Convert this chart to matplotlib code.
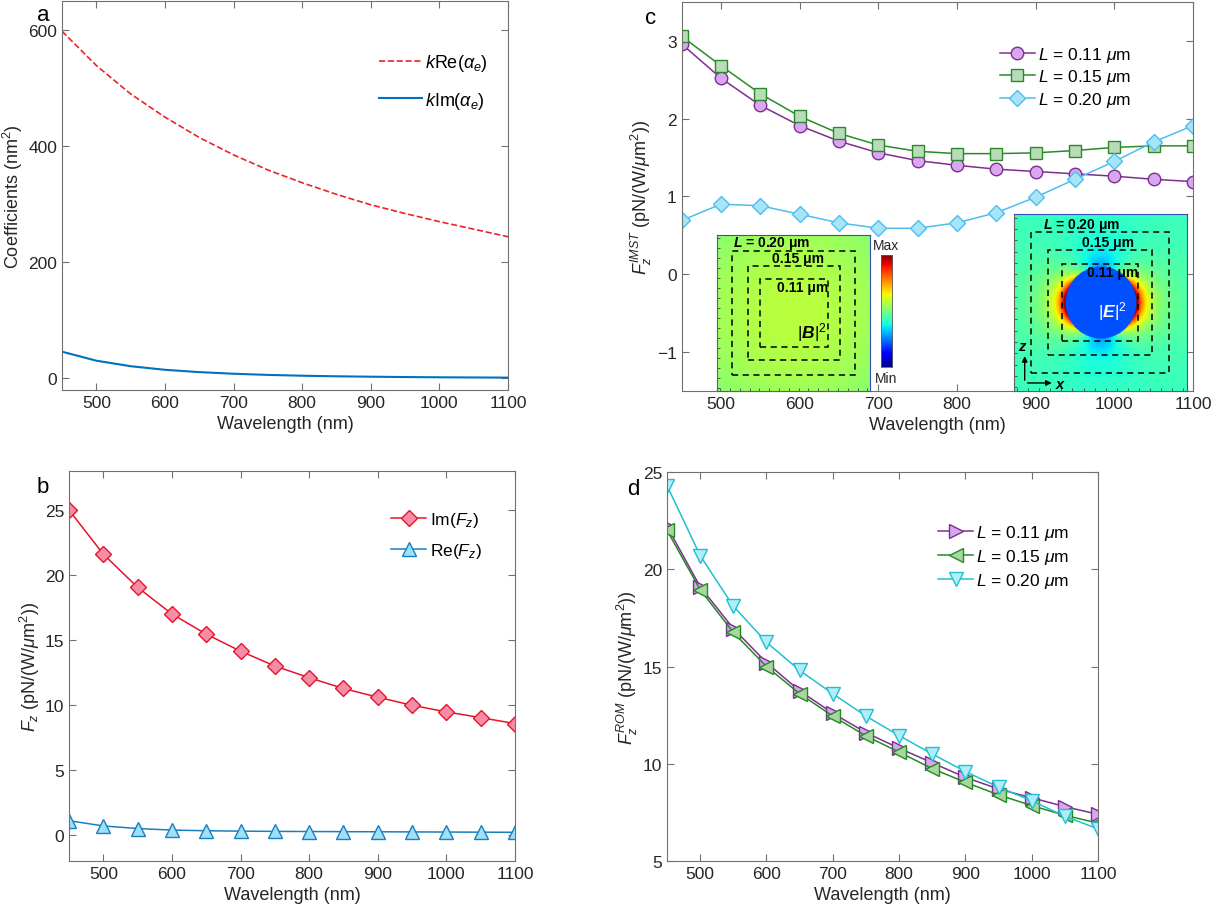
import numpy as np
import matplotlib
matplotlib.use("Agg")
from matplotlib import pyplot as plt
from matplotlib.patches import Rectangle

plt.rcParams['font.family'] = ['Liberation Sans', 'DejaVu Sans']
plt.rcParams['mathtext.fontset'] = 'custom'
plt.rcParams['mathtext.rm'] = 'Liberation Sans'
plt.rcParams['mathtext.it'] = 'Liberation Sans:italic'
plt.rcParams['mathtext.bf'] = 'Liberation Sans:bold'
plt.rcParams['mathtext.bfit'] = 'Liberation Sans:italic:bold'

# data
wl = [450, 500, 550, 600, 650, 700, 750, 800, 850, 900, 950, 1000, 1050, 1100]

# panel a
k_re = [598, 539, 490, 450, 415, 385, 359, 337, 317, 299, 284, 270, 257, 244]
k_im = [46, 30.5, 21, 14.8, 10.8, 8.0, 6.0, 4.6, 3.6, 2.9, 2.3, 1.9, 1.6, 1.3]

# panel b
fz_im = [25.0, 21.6, 19.05, 17.0, 15.45, 14.14, 13.0, 12.1, 11.27, 10.6, 9.98, 9.47, 9.03, 8.57]
fz_re = [1.1, 0.7, 0.5, 0.38, 0.33, 0.3, 0.28, 0.27, 0.26, 0.25, 0.24, 0.23, 0.22, 0.21]

# panel c (IMST)
imst_011 = [2.96, 2.52, 2.17, 1.91, 1.71, 1.56, 1.46, 1.40, 1.35, 1.32, 1.29, 1.26, 1.22, 1.19]
imst_015 = [3.06, 2.68, 2.32, 2.03, 1.81, 1.66, 1.58, 1.55, 1.55, 1.56, 1.59, 1.63, 1.65, 1.65]
imst_020 = [0.69, 0.90, 0.88, 0.77, 0.66, 0.59, 0.59, 0.66, 0.79, 0.99, 1.22, 1.45, 1.70, 1.91]

# panel d (ROM)
rom_011 = [22.2, 19.1, 16.95, 15.2, 13.75, 12.6, 11.6, 10.8, 10.05, 9.3, 8.7, 8.25, 7.8, 7.4]
rom_015 = [22.0, 18.95, 16.75, 15.0, 13.6, 12.45, 11.43, 10.6, 9.75, 9.05, 8.4, 7.85, 7.35, 6.95]
rom_020 = [24.3, 20.7, 18.1, 16.25, 14.8, 13.6, 12.45, 11.45, 10.5, 9.6, 8.8, 8.1, 7.3, 6.65]

L_labels = [r"$L$ = 0.11 $\mu$m", r"$L$ = 0.15 $\mu$m", r"$L$ = 0.20 $\mu$m"]
square_half = [0.055, 0.075, 0.10]   # half of L in um

SPINE = "#707070"
TXT = "#262626"
FS = 12.5

fig = plt.figure(figsize=(12.3, 9.2), dpi=100, facecolor="white")
ax_a = fig.add_axes([0.0504, 0.575, 0.3626, 0.4228])
ax_b = fig.add_axes([0.0561, 0.063, 0.3626, 0.424])
ax_c = fig.add_axes([0.5542, 0.5742, 0.4157, 0.4225])
ax_d = fig.add_axes([0.5423, 0.063, 0.3504, 0.4229])


def style(ax, ylabel, yticks, ylim):
    ax.set_xlim(450, 1100)
    ax.set_ylim(*ylim)
    ax.set_xticks([500, 600, 700, 800, 900, 1000, 1100])
    ax.set_yticks(yticks)
    ax.tick_params(direction="in", length=5, top=True, right=True, color=SPINE,
                   labelcolor=TXT, labelsize=FS, width=0.8)
    for s in ax.spines.values():
        s.set_color(SPINE)
        s.set_linewidth(0.8)
    ax.set_xlabel("Wavelength (nm)", fontsize=FS + 0.5, color=TXT)
    ax.set_ylabel(ylabel, fontsize=FS + 0.5, color=TXT, labelpad=2)


# a
ax_a.plot(wl, k_re, "--", color="#e8262a", lw=1.2, label=r"$k$Re($\alpha_e$)")
ax_a.plot(wl, k_im, "-", color="#0072bd", lw=1.5, label=r"$k$Im($\alpha_e$)")
style(ax_a, r"Coefficients (nm$^2$)", [0, 200, 400, 600], (-20, 650))
ax_a.legend(loc="upper right", bbox_to_anchor=(0.99, 0.91), frameon=False,
            fontsize=FS + 0.5, handlelength=2.4, handletextpad=0.15, labelspacing=0.9)
fig.text(0.030, 0.983, "a", fontsize=16, va="center")

# b
ax_b.plot(wl, fz_im, "-D", color="#e8132b", mfc="#f78ca6", mec="#e8132b", ms=8,
          lw=1.1, label=r"Im($F_z$)")
ax_b.plot(wl, fz_re, "-^", color="#1a7fc0", mfc="#9ee0f5", mec="#1a7fc0", ms=10,
          lw=1.1, label=r"Re($F_z$)")
style(ax_b, r"$F_z$ (pN/(W/$\mu$m$^2$))", [0, 5, 10, 15, 20, 25], (-2, 28))
ax_b.legend(loc="upper right", bbox_to_anchor=(0.96, 0.94), frameon=False,
            fontsize=FS, handlelength=2.0, handletextpad=0.2, labelspacing=0.7)
fig.text(0.030, 0.470, "b", fontsize=16, va="center")

# c
ax_c.plot(wl, imst_011, "-o", color="#7e2f8e", mfc="#d9a6f0", mec="#7e2f8e", ms=9,
          lw=1.1, label=L_labels[0])
ax_c.plot(wl, imst_015, "-s", color="#2a8a2a", mfc="#b7dcb7", mec="#2a8a2a", ms=8,
          lw=1.1, label=L_labels[1])
ax_c.plot(wl, imst_020, "-D", color="#4dbeee", mfc="#a8e4f8", mec="#4dbeee", ms=8,
          lw=1.1, label=L_labels[2])
style(ax_c, r"$F_z^{IMST}$ (pN/(W/$\mu$m$^2$))", [-1, 0, 1, 2, 3], (-1.5, 3.5))
ax_c.legend(loc="upper right", bbox_to_anchor=(0.91, 0.93), frameon=False,
            fontsize=FS, handlelength=2.0, handletextpad=0.2, labelspacing=0.2)
fig.text(0.524, 0.980, "c", fontsize=16, va="center")

# insets for c
ext = [-0.125, 0.125, -0.125, 0.125]
g = np.linspace(-0.125, 0.125, 300)
X, Z = np.meshgrid(g, g)
R2 = X ** 2 + Z ** 2

# |B|^2 map (nearly uniform)
b_map = 0.575 - 2.0 * R2
# |E|^2 map around a dielectric sphere under x-polarised field
a_r, gain = 0.051, 0.6
R5 = np.maximum(R2, 1e-9) ** 2.5
ex = 1 + gain * a_r ** 3 * (3 * X ** 2 - R2) / R5
ez = gain * a_r ** 3 * 3 * X * Z / R5
e_map = ex ** 2 + ez ** 2
e_map[R2 < a_r ** 2] = -0.3


def inset_style(ia):
    ia.set_xlim(-0.125, 0.125)
    ia.set_ylim(-0.125, 0.125)
    ia.set_xticks(np.linspace(-0.12, 0.12, 16))
    ia.set_yticks(np.linspace(-0.12, 0.12, 16))
    ia.tick_params(direction="in", length=2.5, labelbottom=False, labelleft=False,
                   color="#404040", width=0.6)
    for side, s in ia.spines.items():
        s.set_linewidth(0.8)
        s.set_color("#3050c0" if side in ("top", "right") else "#606060")


def squares(ia, texts):
    for h in square_half:
        ia.add_patch(Rectangle((-h, -h), 2 * h, 2 * h, fill=False, ls=(0, (4, 3)),
                               lw=1.1, ec="black"))
    for (x, y, t) in texts:
        ia.text(x, y, t, fontsize=10, fontweight="bold", ha="center", va="center")


ia1 = ax_c.inset_axes([495, -1.5, 195, 2.0], transform=ax_c.transData)
ia1.imshow(b_map, cmap="jet", vmin=0, vmax=1, extent=ext, origin="lower", aspect="auto")
inset_style(ia1)
squares(ia1, [(-0.036, 0.113, r"$\mathbfit{L}$ = 0.20 μm"),
              (0.007, 0.088, "0.15 μm"), (0.015, 0.042, "0.11 μm")])
ia1.text(0.029, -0.03, r"$|\mathbfit{B}|^2$", fontsize=12.5, ha="center", va="center")

ia2 = ax_c.inset_axes([872, -1.5, 220, 2.27], transform=ax_c.transData)
ia2.imshow(e_map, cmap="jet", vmin=-1.53, vmax=4.5, extent=ext, origin="lower",
           aspect="auto", interpolation="bilinear")
inset_style(ia2)
squares(ia2, [(-0.027, 0.111, r"$\mathbfit{L}$ = 0.20 μm"),
              (0.011, 0.086, "0.15 μm"), (0.018, 0.043, "0.11 μm")])
ia2.text(0.018, -0.012, r"$|\mathbfit{E}|^2$", fontsize=12.5, color="white",
         ha="center", va="center")
ia2.annotate("", xy=(-0.109, -0.072), xytext=(-0.109, -0.114),
             arrowprops=dict(arrowstyle="-|>", color="black", lw=1, mutation_scale=8))
ia2.annotate("", xy=(-0.066, -0.114), xytext=(-0.109, -0.114),
             arrowprops=dict(arrowstyle="-|>", color="black", lw=1, mutation_scale=8))
ia2.text(-0.112, -0.062, r"$\mathbfit{z}$", fontsize=10.5, ha="center", va="center")
ia2.text(-0.057, -0.115, r"$\mathbfit{x}$", fontsize=10.5, ha="center", va="center")

cb = ax_c.inset_axes([703, -1.2, 14, 1.45], transform=ax_c.transData)
cb.imshow(np.linspace(0, 1, 256)[:, None], cmap="jet", origin="lower", aspect="auto")
cb.set_xticks([])
cb.set_yticks([])
for s in cb.spines.values():
    s.set_linewidth(0.6)
    s.set_color("#606060")
ax_c.text(710, 0.37, "Max", fontsize=10, ha="center", va="center", color=TXT)
ax_c.text(710, -1.33, "Min", fontsize=10, ha="center", va="center", color=TXT)

# d
ax_d.plot(wl, rom_011, "->", color="#7e2f8e", mfc="#d6a8f0", mec="#7e2f8e", ms=10,
          lw=1.1, label=L_labels[0])
ax_d.plot(wl, rom_015, "-<", color="#228b22", mfc="#a9d6a0", mec="#228b22", ms=10,
          lw=1.1, label=L_labels[1])
ax_d.plot(wl, rom_020, "-v", color="#20c0d0", mfc="#aeeef8", mec="#20c0d0", ms=10,
          lw=1.1, label=L_labels[2])
style(ax_d, r"$F_z^{ROM}$ (pN/(W/$\mu$m$^2$))", [5, 10, 15, 20, 25], (5, 25))
ax_d.legend(loc="upper right", bbox_to_anchor=(0.97, 0.91), frameon=False,
            fontsize=FS, handlelength=2.0, handletextpad=0.2, labelspacing=0.3)
fig.text(0.510, 0.468, "d", fontsize=16, va="center")

fig.savefig("out.png", dpi=100, facecolor="white")
